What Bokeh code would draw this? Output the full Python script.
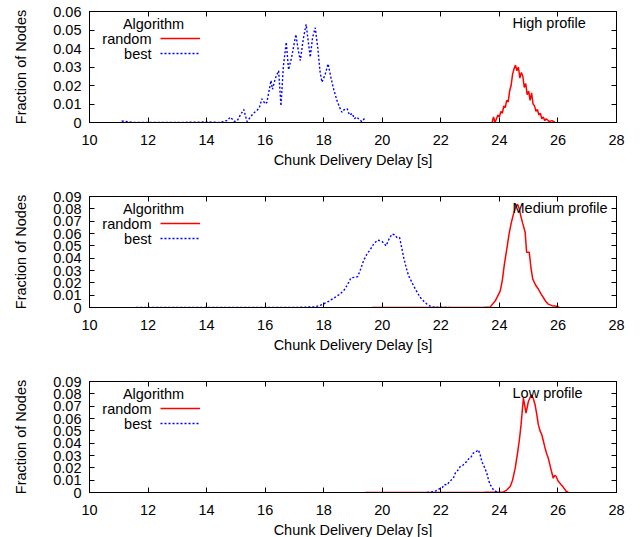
from bokeh.plotting import figure
from bokeh.layouts import column
from bokeh.models import (Range1d, FixedTicker, LinearAxis, Label, Legend, LegendItem,
                          CustomJSTickFormatter)
from bokeh.embed import file_html
from bokeh.resources import INLINE

# ---------------- data ----------------
x_ticks = [10, 12, 14, 16, 18, 20, 22, 24, 26, 28]
x_tick_labels = ["10", "12", "14", "16", "18", "20", "22", "24", "26", "28"]
y_ticks_high = [0, 0.01, 0.02, 0.03, 0.04, 0.05, 0.06]
y_tick_labels_high = ["0", "0.01", "0.02", "0.03", "0.04", "0.05", "0.06"]
y_ticks_mid = [0, 0.01, 0.02, 0.03, 0.04, 0.05, 0.06, 0.07, 0.08, 0.09]
y_tick_labels_mid = ["0", "0.01", "0.02", "0.03", "0.04", "0.05", "0.06", "0.07", "0.08", "0.09"]

profiles = ["High profile", "Medium profile", "Low profile"]
series_names = ["random", "best"]

# High profile
high_best_x = [11.1, 11.3, 11.5, 12.0, 13.0, 14.0, 14.5, 14.6, 14.7, 14.81, 14.95, 15.05, 15.15,
               15.27, 15.38, 15.5, 15.6, 15.72, 15.8, 15.89, 16.0, 16.06, 16.2, 16.25, 16.35,
               16.46, 16.54, 16.62, 16.72, 16.8, 16.9, 17.05, 17.12, 17.2, 17.3, 17.4, 17.47,
               17.54, 17.62, 17.71, 17.8, 17.87, 17.94, 18.05, 18.15, 18.25, 18.34, 18.45, 18.54,
               18.62, 18.7, 18.8, 18.88, 18.97, 19.05, 19.12, 19.19, 19.3, 19.42]
high_best_y = [0.0008, 0.0004, 0.0, 0.0, 0.0, 0.0003, 0.0, 0.0008, 0.001, 0.0029, 0.0005, 0.001, 0.004,
               0.007, 0.0005, 0.003, 0.005, 0.0065, 0.008, 0.0128, 0.010, 0.011, 0.0227, 0.018, 0.024,
               0.028, 0.009, 0.030, 0.0434, 0.0285, 0.035, 0.0476, 0.040, 0.0335, 0.045, 0.053, 0.044,
               0.0353, 0.046, 0.0512, 0.040, 0.028, 0.0218, 0.026, 0.0317, 0.024, 0.018, 0.012, 0.0083,
               0.0055, 0.007, 0.0075, 0.004, 0.0049, 0.002, 0.003, 0.002, 0.0005, 0.0027]
high_random_x = [23.75, 23.8, 23.85, 23.9, 23.95, 24.0, 24.05, 24.1, 24.15, 24.2, 24.25, 24.3, 24.35,
                 24.4, 24.45, 24.5, 24.55, 24.6, 24.65, 24.7, 24.75, 24.8, 24.85, 24.9, 24.95, 25.0,
                 25.05, 25.1, 25.15, 25.2, 25.25, 25.3, 25.35, 25.4, 25.45, 25.5, 25.55, 25.6, 25.7,
                 25.8, 25.9]
high_random_y = [0.0, 0.003, 0.0, 0.002, 0.004, 0.003, 0.006, 0.005, 0.009, 0.008, 0.012, 0.011, 0.017,
                 0.020, 0.026, 0.029, 0.031, 0.028, 0.030, 0.024, 0.027, 0.025, 0.019, 0.021, 0.015, 0.017,
                 0.012, 0.016, 0.010, 0.009, 0.006, 0.007, 0.004, 0.005, 0.002, 0.003, 0.001, 0.002, 0.0005,
                 0.001, 0.0]

# Medium profile
mid_best_x = [11.6, 12.0, 14.0, 16.0, 17.0, 17.66, 17.85, 18.0, 18.17, 18.34, 18.5, 18.68, 18.8, 18.93,
              19.05, 19.16, 19.26, 19.36, 19.47, 19.59, 19.72, 19.85, 19.99, 20.06, 20.13, 20.22, 20.33,
              20.42, 20.5, 20.59, 20.66, 20.73, 20.82, 20.9, 21.0, 21.07, 21.2, 21.3, 21.42, 21.53, 21.65,
              21.75, 22.0, 22.3]
mid_best_y = [0.0, 0.0, 0.0, 0.0, 0.0, 0.0005, 0.0015, 0.003, 0.005, 0.0076, 0.010, 0.0135, 0.018, 0.024,
              0.0245, 0.025, 0.031, 0.038, 0.043, 0.047, 0.052, 0.0547, 0.0535, 0.052, 0.050, 0.055, 0.0595,
              0.059, 0.0568, 0.0568, 0.049, 0.0405, 0.032, 0.0257, 0.021, 0.0176, 0.012, 0.0081, 0.005, 0.0027,
              0.001, 0.0003, 0.0, 0.0]
mid_random_x = [19.65, 20.5, 21.5, 22.5, 23.5, 23.69, 23.86, 24.03, 24.1, 24.17, 24.25, 24.33, 24.4, 24.48,
                24.55, 24.62, 24.68, 24.73, 24.8, 24.88, 24.93, 25.02, 25.08, 25.14, 25.24, 25.33, 25.42,
                25.5, 25.58, 25.67, 25.8, 25.96, 26.05]
mid_random_y = [0.0, 0.0, 0.0, 0.0, 0.0002, 0.0005, 0.0054, 0.0135, 0.022, 0.035, 0.047, 0.0595, 0.068, 0.0757,
                0.081, 0.0838, 0.080, 0.0743, 0.068, 0.061, 0.0447, 0.0447, 0.032, 0.023, 0.018, 0.015, 0.011,
                0.0081, 0.005, 0.0027, 0.0015, 0.001, 0.0]

# Low profile
low_best_x = [21.53, 21.7, 21.85, 21.95, 22.05, 22.12, 22.21, 22.3, 22.43, 22.5, 22.58, 22.66, 22.75, 22.82,
              22.89, 22.97, 23.04, 23.11, 23.2, 23.28, 23.34, 23.4, 23.48, 23.57, 23.63, 23.69, 23.8, 23.91, 24.0]
low_best_y = [0.0, 0.0005, 0.0015, 0.003, 0.004, 0.0065, 0.0062, 0.009, 0.0116, 0.016, 0.018, 0.021, 0.022, 0.024,
              0.025, 0.028, 0.029, 0.032, 0.033, 0.0346, 0.031, 0.025, 0.021, 0.0157, 0.010, 0.0062, 0.002, 0.0005, 0.0]
low_random_x = [19.42, 20.5, 22.0, 23.5, 24.14, 24.25, 24.37, 24.45, 24.54, 24.62, 24.69, 24.74, 24.77, 24.82,
                24.87, 24.91, 24.95, 24.99, 25.05, 25.1, 25.16, 25.22, 25.28, 25.33, 25.39, 25.45, 25.5, 25.56,
                25.62, 25.67, 25.75, 25.84, 25.89, 25.94, 26.0, 26.05, 26.12, 26.19, 26.28, 26.36]
low_random_y = [0.0, 0.0, 0.0, 0.0002, 0.0005, 0.002, 0.0049, 0.010, 0.0197, 0.032, 0.044, 0.055, 0.063, 0.0765,
                0.070, 0.0643, 0.069, 0.0738, 0.077, 0.0792, 0.076, 0.0711, 0.063, 0.055, 0.050, 0.0468, 0.042, 0.036,
                0.031, 0.0279, 0.020, 0.0116, 0.014, 0.013, 0.0095, 0.0081, 0.006, 0.004, 0.001, 0.0]

# ---------------- styling ----------------
FONT = "Liberation Sans"
FS = "14.5px"
FRAME_W, FRAME_H = 527, 111


def make_panel(title, ymax, yticks, ylabels, rx, ry, bx, by, top_border, bottom_border):
    p = figure(output_backend="svg", toolbar_location=None,
               frame_width=FRAME_W, frame_height=FRAME_H,
               min_border_left=89, min_border_right=16, min_border_top=top_border,
               min_border_bottom=bottom_border,
               x_range=Range1d(10, 28), y_range=Range1d(0, ymax),
               x_axis_label="Chunk Delivery Delay [s]", y_axis_label="Fraction of Nodes")
    p.background_fill_color = "white"
    p.border_fill_color = "white"
    p.outline_line_color = "black"
    p.outline_line_width = 1
    p.outline_line_alpha = 1
    p.xgrid.visible = False
    p.ygrid.visible = False

    r_random = p.line(rx, ry, line_color="#ff0000", line_width=1.5)
    r_best = p.line(bx, by, line_color="#0000ff", line_width=1.4, line_dash="2 2")

    for ax, ticks, labels in ((p.xaxis[0], x_ticks, x_tick_labels), (p.yaxis[0], yticks, ylabels)):
        ax.ticker = FixedTicker(ticks=ticks)
        ax.major_label_overrides = {t: l for t, l in zip(ticks, labels)}
        ax.major_tick_in = 5
        ax.major_tick_out = 0
        ax.minor_tick_in = 0
        ax.minor_tick_out = 0
        ax.major_label_text_font = FONT
        ax.major_label_text_font_size = FS
        ax.major_label_text_color = "black"
        ax.axis_label_text_font = FONT
        ax.axis_label_text_font_size = FS
        ax.axis_label_text_font_style = "normal"
        ax.axis_label_text_color = "black"
        ax.axis_line_color = "black"
        ax.major_tick_line_color = "black"
    p.xaxis[0].major_label_standoff = 12
    p.xaxis[0].axis_label_standoff = 4
    p.yaxis[0].major_label_standoff = 8
    p.yaxis[0].axis_label_standoff = 21

    # mirrored inward ticks on top and right
    for side, ticks in (("above", x_ticks), ("right", yticks)):
        ax = LinearAxis(ticker=FixedTicker(ticks=ticks),
                        formatter=CustomJSTickFormatter(code="return ''"),
                        major_tick_in=5, major_tick_out=0, minor_tick_in=0, minor_tick_out=0,
                        axis_line_color=None, major_label_text_font_size="0px",
                        major_label_standoff=0, major_tick_line_color="black")
        p.add_layout(ax, side)

    # legend text (gnuplot style: text left of sample)
    def fx(px):
        return 10 + px / FRAME_W * 18

    def fy(py):
        return ymax * (1 - py / FRAME_H)

    p.add_layout(Label(x=fx(64), y=fy(12), text="Algorithm", text_align="center",
                       text_baseline="middle", text_font=FONT, text_font_size=FS,
                       text_color="black"))
    for i, name in enumerate(series_names):
        p.add_layout(Label(x=fx(62), y=fy(27 + 15 * i), text=name, text_align="right",
                           text_baseline="middle", text_font=FONT, text_font_size=FS,
                           text_color="black"))
    p.add_layout(Label(x=fx(423), y=fy(11), text=title, text_align="left",
                       text_baseline="middle", text_font=FONT, text_font_size=FS,
                       text_color="black"))

    legend = Legend(items=[LegendItem(label=" ", renderers=[r_random]),
                           LegendItem(label=" ", renderers=[r_best])],
                    location=(71, FRAME_H - 48), padding=0, margin=0, spacing=3,
                    glyph_height=12, glyph_width=40, label_height=12, label_width=0,
                    label_standoff=0, border_line_color=None, background_fill_alpha=0,
                    label_text_font_size="1px")
    p.add_layout(legend)
    return p


p1 = make_panel(profiles[0], 0.06, y_ticks_high, y_tick_labels_high,
                high_random_x, high_random_y, high_best_x, high_best_y, 11, 66)
p2 = make_panel(profiles[1], 0.09, y_ticks_mid, y_tick_labels_mid,
                mid_random_x, mid_random_y, mid_best_x, mid_best_y, 8, 66)
p3 = make_panel(profiles[2], 0.09, y_ticks_mid, y_tick_labels_mid,
                low_random_x, low_random_y, low_best_x, low_best_y, 8, 45)

layout = column(p1, p2, p3, spacing=0)
open("out.html", "w").write(file_html(layout, INLINE))
